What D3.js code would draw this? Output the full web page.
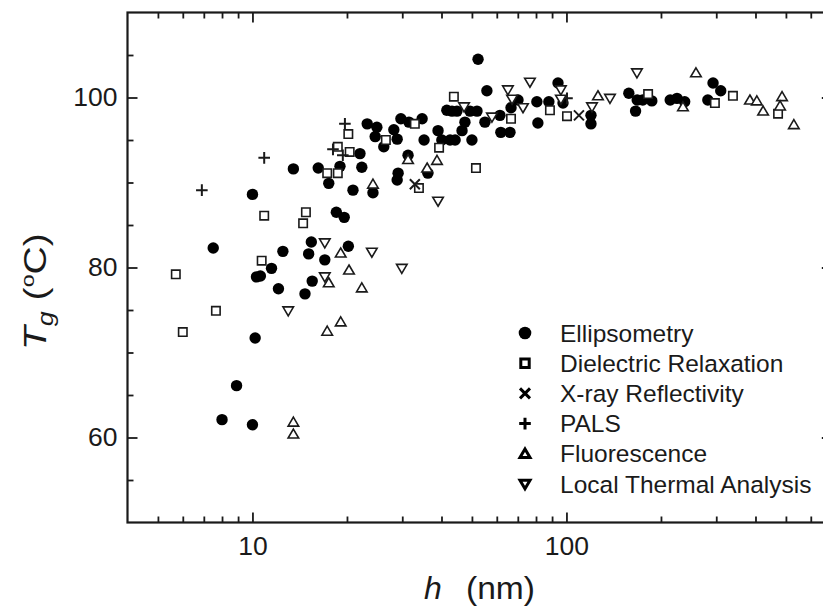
<!DOCTYPE html>
<html><head><meta charset="utf-8">
<script src="https://cdn.jsdelivr.net/npm/d3@7"></script>
<style>
html,body{margin:0;padding:0;background:#fff;}
svg{display:block;font-family:"Liberation Sans",Arial,sans-serif;}
</style></head>
<body><svg id="c" width="823" height="609"></svg>
<script>
// ---- data: [h (nm), Tg (°C)] ----
const ellipsometry = [
[7.5,82.3],[12.5,81.9],[15.4,83.0],[15.1,81.6],[17.0,80.9],[20.2,82.5],[11.5,79.9],[10.3,78.9],[10.6,79.0],[12.1,77.5],[14.7,76.9],[15.5,78.4],[10.2,71.7],[8.9,66.1],[8.0,62.1],[10.0,61.5],
[13.5,91.6],[16.2,91.7],[19.0,91.9],[22.0,93.4],[22.3,91.8],[17.5,89.9],[10.0,88.6],[20.9,89.1],[24.2,88.8],[18.5,86.5],[19.6,85.9],
[23.2,96.9],[24.9,96.5],[24.6,95.4],[26.2,94.2],[28.2,96.2],[28.9,95.1],[29.7,97.5],[31.5,97.1],[34.7,97.5],[35.2,95.0],[39.0,96.1],[40.1,95.0],[42.6,95.0],[44.2,95.0],[41.6,98.5],[43.2,98.4],[44.8,98.4],[49.3,98.4],[51.9,98.4],[47.5,97.1],[46.5,96.1],[50.0,95.0],[55.0,97.1],[61.8,95.9],[66.1,95.9],[31.3,93.2],[29.1,91.1],[28.9,90.3],[36.2,91.1],
[52.3,104.5],[55.8,100.8],[61.4,97.9],[66.6,98.8],[70.1,99.7],[80.5,99.5],[81.1,97.0],[87.9,99.5],[94.0,101.7],[97.5,99.35],[119.7,97.9],[119.7,96.9],[158,100.5],[168,99.7],[166,98.4],[175,99.7],[187,99.6],[214,99.7],[225,99.9],[238,99.5],[293,101.7],[310,100.8],[282,99.7]
];
const dielectric = [[5.7,79.2],[7.65,74.9],[6.0,72.4],[10.7,80.8],[10.9,86.1],[14.8,86.5],[14.5,85.2],[20.2,95.7],[18.7,94.2],[20.4,93.6],[17.3,91.1],[18.7,91.1],[26.6,95.0],[32.9,96.9],[39.3,94.1],[33.9,89.35],[43.8,100.1],[51.5,91.7],[66.6,97.5],[88.6,98.5],[100.4,97.8],[182,100.4],[339,100.2],[297,99.35],[472,98.1]];
const xray = [[32.9,89.8],[109.6,97.9]];
const pals = [[6.9,89.1],[10.9,92.9],[18.05,93.9],[19.4,93.2],[19.7,96.9],[100.4,99.9]];
const fluorescence = [[19.1,81.7],[20.3,79.7],[17.5,78.2],[22.3,77.6],[17.3,72.5],[19.1,73.6],[13.5,61.8],[13.5,60.4],[24.2,89.8],[36.0,91.7],[38.7,92.6],[31.3,92.7],[126,100.2],[258.5,102.9],[235,98.9],[384,99.7],[404,99.6],[423,98.4],[486,100.1],[479,99.0],[530,96.8]];
const localThermal = [[17.0,82.9],[17.0,78.9],[13.0,74.9],[24.0,81.8],[29.9,79.9],[39.0,87.8],[47.2,98.9],[57.9,97.7],[65.1,100.9],[67.1,99.8],[72.7,98.8],[76.5,101.8],[96.0,100.9],[96.0,99.8],[120.6,98.9],[137.6,99.9],[167.7,102.9]];

const legendNames = ["Ellipsometry","Dielectric Relaxation","X-ray Reflectivity","PALS","Fluorescence","Local Thermal Analysis"];
const xMajorTicks = [10,100];
const xMinorTicks = [5,6,7,8,9,20,30,40,50,60,70,80,90,200,300,400,500,600];
const yMajorTicks = [60,80,100];
const yMinorTicks = [55,65,70,75,85,90,95,105];

// ---- layout ----
const svg = d3.select("#c");
const x = d3.scaleLog().domain([4,700]).range([127.5,831.8]);
const y = d3.scaleLinear().domain([50,110]).range([522.5,12.5]);
const ink = "#1a1a1a";

function shapePath(type, s){
  switch(type){
    case "square": return `M${-s},${-s}H${s}V${s}H${-s}Z`;
    case "up": return `M0,${-s*1.15}L${s*1.2},${s*0.9}L${-s*1.2},${s*0.9}Z`;
    case "down": return `M0,${s*1.15}L${s*1.2},${-s*0.9}L${-s*1.2},${-s*0.9}Z`;
    case "times": return `M${-s},${-s}L${s},${s}M${-s},${s}L${s},${-s}`;
    case "plus": return `M${-s},0H${s}M0,${-s}V${s}`;
  }
}

// axes
function drawAxis(gen, transform, ticks, size, labels, pad){
  const g = svg.append("g").attr("transform", transform)
    .call(gen.tickValues(ticks).tickSize(size).tickSizeOuter(0).tickPadding(pad||0)
      .tickFormat(labels ? d3.format("d") : ""));
  g.select(".domain").remove();
  g.selectAll(".tick line").attr("stroke", ink).attr("stroke-width", 1.8);
  g.selectAll(".tick text").attr("fill", ink).attr("font-size", 26.5)
   .attr("font-family","Liberation Sans, Arial, sans-serif");
  return g;
}
const x0 = 127.5, x1 = 831.8, yb = 522.5, yt = 12.5;
drawAxis(d3.axisBottom(x), `translate(0,${yb})`, xMajorTicks, -10, true, 14);
drawAxis(d3.axisBottom(x), `translate(0,${yb})`, xMinorTicks, -6, false);
drawAxis(d3.axisTop(x), `translate(0,${yt})`, xMajorTicks, -10, false);
drawAxis(d3.axisTop(x), `translate(0,${yt})`, xMinorTicks, -6, false);
drawAxis(d3.axisLeft(y), `translate(${x0},0)`, yMajorTicks, -10, true, 10);
drawAxis(d3.axisLeft(y), `translate(${x0},0)`, yMinorTicks, -6, false);
drawAxis(d3.axisRight(y), `translate(${x1},0)`, yMajorTicks, -10, false);
drawAxis(d3.axisRight(y), `translate(${x1},0)`, yMinorTicks, -6, false);
svg.append("rect").attr("x",x0).attr("y",yt).attr("width",x1-x0).attr("height",yb-yt)
  .attr("fill","none").attr("stroke",ink).attr("stroke-width",2.2);

// axis titles
svg.append("text").attr("x",424).attr("y",599).attr("font-size",32).attr("fill",ink)
  .attr("font-style","italic").text("h");
svg.append("text").attr("x",466).attr("y",599).attr("font-size",32).attr("fill",ink)
  .attr("textLength",69).attr("lengthAdjust","spacingAndGlyphs").text("(nm)");

const yt2 = svg.append("text").attr("transform","translate(46,350) rotate(-90) scale(1.22,1)")
  .attr("font-size",32).attr("fill",ink);
yt2.append("tspan").attr("font-style","italic").text("T");
yt2.append("tspan").attr("font-style","italic").attr("font-size",22).attr("dy",7).text("g");
yt2.append("tspan").attr("dy",-7).text("\u00a0(");
yt2.append("tspan").attr("font-size",19).attr("dy",-12).text("o");
yt2.append("tspan").attr("dy",12).text("C)");

// data
const plot = svg.append("g");
plot.selectAll("circle.e").data(ellipsometry).join("circle")
  .attr("cx",d=>x(d[0])).attr("cy",d=>y(d[1])).attr("r",5.7).attr("fill","#000");

const openSeries = [
  {data: dielectric, type:"square", s:4.2},
  {data: xray, type:"times", s:5},
  {data: pals, type:"plus", s:5.8},
  {data: fluorescence, type:"up", s:4.4},
  {data: localThermal, type:"down", s:4.4}
];
openSeries.forEach(ser=>{
  plot.append("g").selectAll("path").data(ser.data).join("path")
    .attr("transform",d=>`translate(${x(d[0])},${y(d[1])})`)
    .attr("d",shapePath(ser.type, ser.s))
    .attr("fill", (ser.type==="times"||ser.type==="plus") ? "none" : "#fff")
    .attr("stroke", ink)
    .attr("stroke-width", (ser.type==="times"||ser.type==="plus") ? 2 : 1.6);
});

// legend
const legendTypes = ["circle","square","times","plus","up","down"];
const lg = svg.append("g");
legendNames.forEach((name,i)=>{
  const cy = 333 + i*30.2, cx = 525;
  if(legendTypes[i]==="circle"){
    lg.append("circle").attr("cx",cx).attr("cy",cy).attr("r",6.3).attr("fill","#000");
  } else {
    const s = legendTypes[i]==="square"?4.2:(legendTypes[i]==="plus"?5.8:(legendTypes[i]==="times"?5:4.2));
    lg.append("path").attr("transform",`translate(${cx},${cy})`)
      .attr("d",shapePath(legendTypes[i], s))
      .attr("fill", (legendTypes[i]==="times"||legendTypes[i]==="plus")?"none":"#fff")
      .attr("stroke", "#000").attr("stroke-width",3);
  }
  lg.append("text").attr("x",560).attr("y",cy+8.5).attr("font-size",24.5).attr("fill",ink).text(name);
});
</script></body></html>
